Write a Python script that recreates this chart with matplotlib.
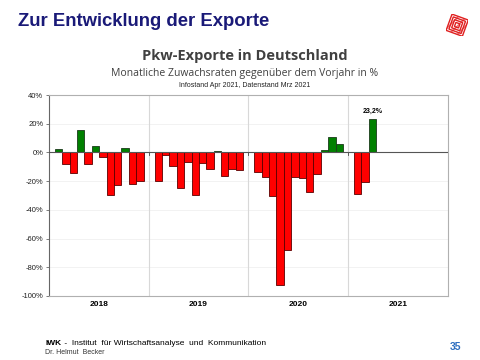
import matplotlib.pyplot as plt
import matplotlib.patches as mpatches
import matplotlib.transforms as mtransforms
import numpy as np

plt.rcParams['font.family'] = ['Liberation Sans', 'DejaVu Sans']

# monatliche Zuwachsraten ggue. Vorjahr in %
years = ["2018", "2019", "2020", "2021"]
v2018 = [2.6, -7.9, -14.2, 15.6, -8.4, 4.4, -3.5, -29.5, -23.0, 3.3, -22.3, -20.2]
v2019 = [-19.7, -2.1, -9.5, -25.0, -6.7, -29.7, -7.2, -11.4, 0.9, -16.5, -11.6, -12.1]
v2020 = [-13.5, -17.4, -30.2, -92.7, -68.0, -17.4, -17.9, -27.9, -15.3, 1.9, 10.7, 5.8]
v2021 = [-29.0, -20.4, 23.2]
yticks = [40, 20, 0, -20, -40, -60, -80, -100]
last_label = "23,2%"

series = [v2018, v2019, v2020, v2021]

fig = plt.figure(figsize=(4.8, 3.6), dpi=100)
ax = fig.add_axes([0.102, 0.178, 0.831, 0.558])

block = 13.5   # breite eines jahres in balken
off = 0.8
for yi, vals in enumerate(series):
    x = yi * block + off + np.arange(len(vals)) + 0.5
    vals = np.array(vals)
    cols = np.where(vals >= 0, "#008000", "#ff0000")
    edges = np.where(vals >= 0, "#1a3a1a", "#5a0000")
    ax.bar(x, vals, width=1.0, color=cols, edgecolor=edges, linewidth=0.6, zorder=3)

# label letzter wert
lx = 3 * block + off + len(v2021) - 0.5
ax.text(lx, v2021[-1] + 3, last_label, ha="center", va="bottom", fontsize=5, fontweight="bold")

ax.set_xlim(0, 4 * block)
ax.set_ylim(-100, 40)
ax.set_yticks(yticks)
ax.set_yticklabels([f"{t}%" for t in yticks], fontsize=5.5, color="#222222")
ax.tick_params(axis="y", length=2, width=0.6, color="#666666", pad=2)
ax.set_xticks([(i + 0.5) * block for i in range(4)])
ax.set_xticklabels(years, fontsize=6, fontweight="bold")
ax.tick_params(axis="x", length=0, pad=4)

for t in yticks:
    if t != 0:
        ax.axhline(t, color="#f0f0f0", linewidth=0.6, zorder=1)
for i in range(1, 4):
    ax.axvline(i * block, color="#d8d8d8", linewidth=0.8, zorder=1)
    ax.plot([i * block, i * block], [0, -1.5], color="#444444", linewidth=0.6, zorder=4)
ax.axhline(0, color="#555555", linewidth=0.8, zorder=4)

for s in ["top", "right", "bottom"]:
    ax.spines[s].set_color("#b0b0b0")
    ax.spines[s].set_linewidth(0.8)
ax.spines["left"].set_color("#666666")
ax.spines["left"].set_linewidth(0.8)

# kopf
fig.text(0.037, 0.94, "Zur Entwicklung der Exporte", fontsize=13.3, fontweight="bold",
         color="#1a1a78", va="center")
fig.text(0.51, 0.845, "Pkw-Exporte in Deutschland", fontsize=10.5, fontweight="bold",
         color="#404040", ha="center", va="center", family=["Open Sans", "DejaVu Sans"])
fig.text(0.51, 0.797, "Monatliche Zuwachsraten gegenüber dem Vorjahr in %", fontsize=7.5,
         color="#404040", ha="center", va="center", family=["Open Sans", "DejaVu Sans"])
fig.text(0.51, 0.763, "Infostand Apr 2021, Datenstand Mrz 2021", fontsize=5,
         color="#222222", ha="center", va="center")

# logo: gedrehtes rotes labyrinth-quadrat
logo = fig.add_axes([0.93, 0.9, 0.045, 0.06])
logo.set_xlim(-1, 1)
logo.set_ylim(-1, 1)
logo.set_aspect("equal")
logo.axis("off")
rot = mtransforms.Affine2D().rotate_deg(-20) + logo.transData
for r in [0.8, 0.6, 0.4, 0.2]:
    logo.add_patch(mpatches.Rectangle((-r, -r), 2 * r, 2 * r, facecolor="none",
                                      edgecolor="#e02020", linewidth=1.0, transform=rot))
logo.add_patch(mpatches.Rectangle((-0.8, -0.8), 1.6, 1.6, facecolor="none",
                                  edgecolor="#e02020", hatch="////", linewidth=0,
                                  alpha=0.6, transform=rot))
plt.rcParams['hatch.color'] = "#e02020"

# fuss
fig.text(0.094, 0.047, "IWK", fontsize=6, fontweight="bold", va="center")
fig.text(0.13, 0.047, " -  Institut  für Wirtschaftsanalyse  und  Kommunikation", fontsize=6, va="center")
fig.text(0.094, 0.022, "Dr. Helmut  Becker", fontsize=5, va="center", color="#333333")
fig.text(0.96, 0.035, "35", fontsize=7.5, fontweight="bold", color="#2e6fc0", ha="right", va="center")

fig.savefig("out.png", dpi=100)
